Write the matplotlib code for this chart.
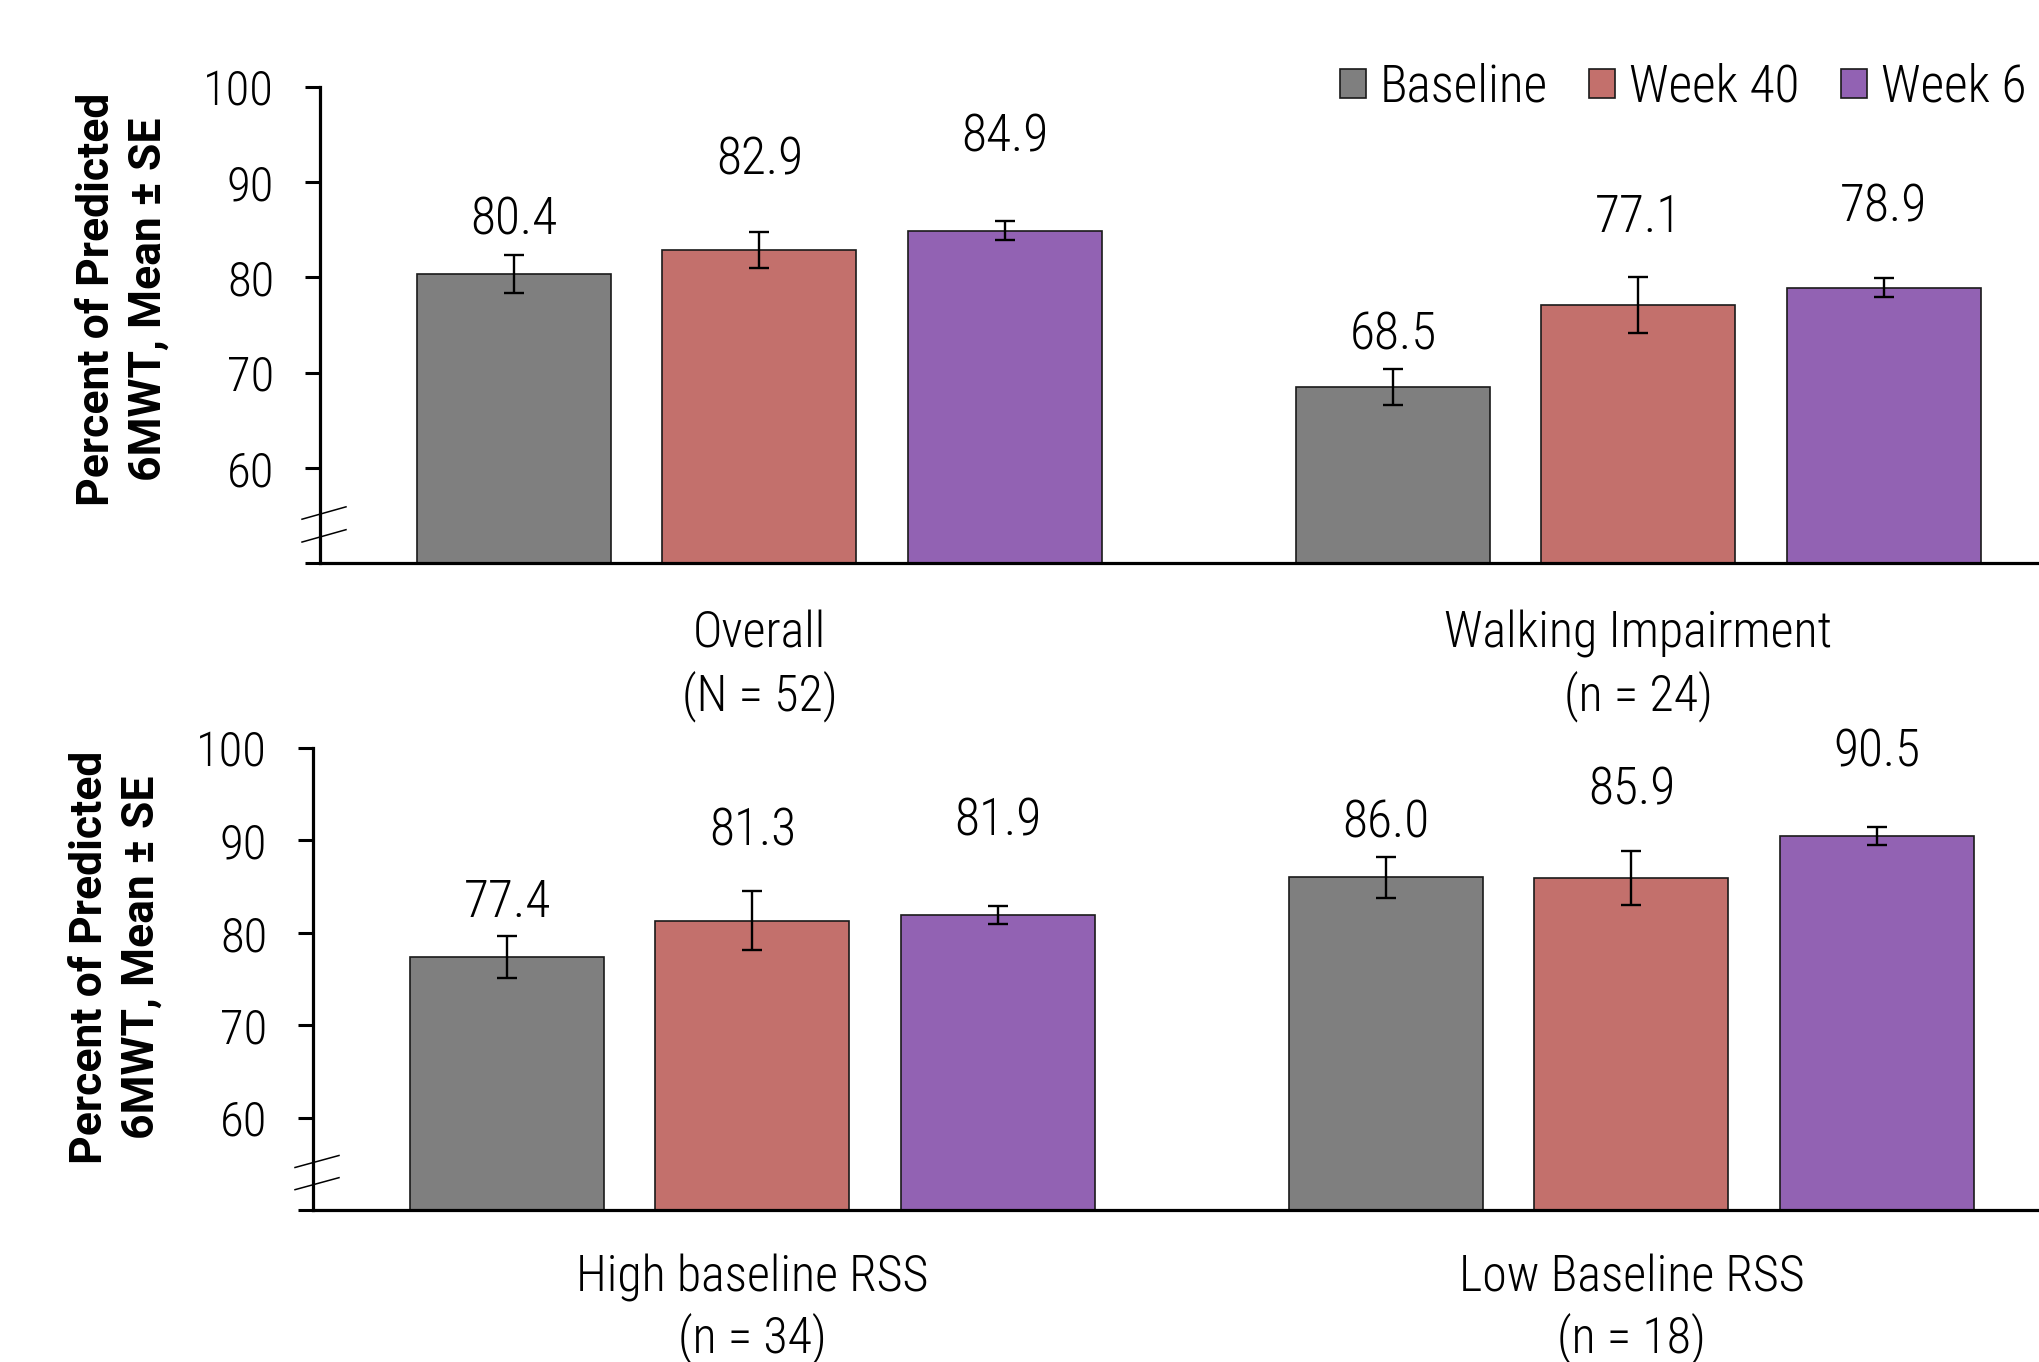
import os
import matplotlib
matplotlib.use("Agg")
import matplotlib.pyplot as plt
from matplotlib import font_manager as fm
import numpy as np

# ---------------- data ----------------
series = ["Baseline", "Week 40", "Week 6"]
top_groups = ["Overall", "Walking Impairment"]
top_ns = ["(N = 52)", "(n = 24)"]
bottom_groups = ["High baseline RSS", "Low Baseline RSS"]
bottom_ns = ["(n = 34)", "(n = 18)"]

overall_mean = [80.4, 82.9, 84.9]
overall_se = [2.0, 1.9, 1.0]
walking_mean = [68.5, 77.1, 78.9]
walking_se = [1.9, 2.9, 1.0]
high_mean = [77.4, 81.3, 81.9]
high_se = [2.3, 3.2, 1.0]
low_mean = [86.0, 85.9, 90.5]
low_se = [2.2, 2.9, 1.0]

yticks = [50, 60, 70, 80, 90, 100]
ytick_labels = ["", "60", "70", "80", "90", "100"]

# layout: baseline of value labels (in y data units), matching reference placement
overall_lab_y = [84.5, 90.8, 93.2]
walking_lab_y = [72.4, 84.8, 85.9]
high_lab_y = [81.7, 89.5, 90.5]
low_lab_y = [90.3, 93.9, 98.0]

colors = ["#7F7F7F", "#C3706C", "#9262B3"]


# ---------------- fonts ----------------
def _w(f):
    w = f.weight
    if isinstance(w, str):
        w = {"light": 300, "normal": 400, "regular": 400, "book": 400, "medium": 500,
             "semibold": 600, "demibold": 600, "bold": 700}.get(w.lower(), 400)
    return w


def find_condensed():
    best = None
    for f in fm.fontManager.ttflist:
        key = (f.name + " " + os.path.basename(f.fname)).lower()
        if f.style != "normal" or "italic" in key:
            continue
        if "mono" in key or "cjk" in key or "serif" in key:
            continue
        if "narrow" in key and "liberation" in key:
            score = 0
        elif "condensed" in key and "semi" not in key and "extra" not in key and "ultra" not in key:
            score = 1 if "roboto" in key else 2
        elif "semicondensed" in key or "semi condensed" in key:
            score = 4
        else:
            continue
        s = (score, abs(_w(f) - 310))
        if best is None or s < best[0]:
            best = (s, f.fname)
    return best[1] if best else None


COND = find_condensed()
if COND:
    def NF(size):
        return fm.FontProperties(fname=COND, size=size)
    S_VAL, S_TICK, S_CAT, S_LEG = 37, 35, 36, 37
else:
    def NF(size):
        return fm.FontProperties(family=["Liberation Sans", "DejaVu Sans"], size=size)
    S_VAL, S_TICK, S_CAT, S_LEG = 33, 32, 32, 33

YLAB = dict(family=["Roboto", "Open Sans", "DejaVu Sans"], weight="bold")

W, H = 2040, 1362
DPI = 100
fig = plt.figure(figsize=(W / DPI, H / DPI), dpi=DPI)

PITCH = 245.5       # px between bars
GROUP = 879.0       # px between groups
G = GROUP / PITCH
BW = 194.0 / PITCH
XL = -1 - 194.0 / PITCH


def draw_panel(left_px, top_px, bottom_px, groups, ns, means_list, se_list, laby_list,
               ylab_center, cat_offsets):
    right_px = 2100
    ax = fig.add_axes([left_px / W, 1 - bottom_px / H, (right_px - left_px) / W,
                       (bottom_px - top_px) / H])
    xr = XL + (right_px - left_px) / PITCH
    ax.set_xlim(XL, xr)
    ax.set_ylim(50, 100)
    for gi, (means, ses, laby) in enumerate(zip(means_list, se_list, laby_list)):
        xs = gi * G + np.array([-1, 0, 1])
        for k in range(3):
            ax.bar(xs[k], means[k], width=BW, color=colors[k], edgecolor="#1a1a1a",
                   linewidth=1.2, zorder=2, label=series[k] if gi == 0 else None)
            ax.errorbar(xs[k], means[k], yerr=ses[k], fmt="none", ecolor="black",
                        elinewidth=1.7, capsize=7, capthick=1.7, zorder=3)
            ax.text(xs[k], laby[k], f"{means[k]:.1f}", ha="center", va="baseline",
                    fontproperties=NF(S_VAL))
        ax.annotate(groups[gi], xy=(gi * G, 0), xycoords=("data", "axes fraction"),
                    xytext=(0, -cat_offsets[0]), textcoords="offset pixels",
                    ha="center", va="baseline", fontproperties=NF(S_CAT))
        ax.annotate(ns[gi], xy=(gi * G, 0), xycoords=("data", "axes fraction"),
                    xytext=(0, -cat_offsets[1]), textcoords="offset pixels",
                    ha="center", va="baseline", fontproperties=NF(S_CAT))

    for s in ["top", "right"]:
        ax.spines[s].set_visible(False)
    for s in ["left", "bottom"]:
        ax.spines[s].set_linewidth(2.3)
        ax.spines[s].set_color("black")
    ax.set_yticks(yticks)
    ax.set_yticklabels(ytick_labels)
    ax.set_xticks([])
    ax.tick_params(axis="y", length=11, width=2.2, pad=22, direction="out")
    for lab in ax.get_yticklabels():
        lab.set_fontproperties(NF(S_TICK))

    # axis break marks
    trans = ax.get_yaxis_transform()
    dx0, dx1 = -18.0 / (right_px - left_px), 26.0 / (right_px - left_px)
    for y0, y1 in [(54.6, 55.9), (52.2, 53.5)]:
        ax.plot([dx0, dx1], [y0, y1], transform=trans, color="black", lw=1.1,
                clip_on=False, zorder=5)

    fig.text(ylab_center[0] / W, 1 - ylab_center[1] / H,
             "Percent of Predicted\n6MWT, Mean \u00b1 SE", rotation=90,
             ha="center", va="center", multialignment="center", fontsize=32,
             linespacing=1.3, **YLAB)
    return ax


ax1 = draw_panel(320, 87, 563, top_groups, top_ns,
                 [overall_mean, walking_mean], [overall_se, walking_se],
                 [overall_lab_y, walking_lab_y], (123, 299), (84, 147))
ax2 = draw_panel(313, 748, 1210, bottom_groups, bottom_ns,
                 [high_mean, low_mean], [high_se, low_se],
                 [high_lab_y, low_lab_y], (116, 957), (82, 142))

handles, labels = ax1.get_legend_handles_labels()
leg = fig.legend(handles, labels, loc="center left",
                 bbox_to_anchor=(1340 / W, 1 - 88 / H), ncol=3, frameon=False,
                 borderpad=0, borderaxespad=0, handlelength=0.5, handleheight=0.5,
                 handletextpad=0.28, columnspacing=0.8,
                 prop=NF(S_LEG))

fig.savefig("out.png", dpi=DPI)
